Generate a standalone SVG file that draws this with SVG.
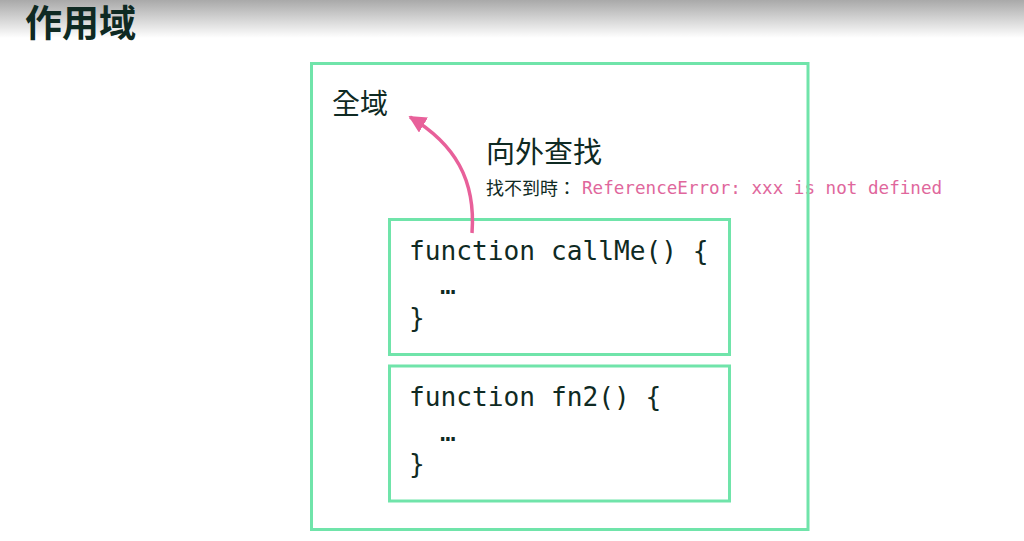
<svg xmlns="http://www.w3.org/2000/svg" width="1024" height="541" viewBox="0 0 1024 541">
  <defs>
    <linearGradient id="topShade" x1="0" y1="0" x2="0" y2="1">
      <stop offset="0" stop-color="#a9a9a9"/>
      <stop offset="1" stop-color="#ffffff"/>
    </linearGradient>
    <marker id="head" viewBox="0 0 10 10" refX="9" refY="5" markerWidth="5" markerHeight="5" orient="auto-start-reverse" markerUnits="strokeWidth">
      <path d="M0,0 L10,5 L0,10 z" fill="#e8609a"/>
    </marker>
    <style>
      .box { fill: none; stroke: #70e4aa; stroke-width: 3; }
      .code { font-family: "DejaVu Sans Mono", "Liberation Mono", monospace; font-size: 26.2px; fill: #0f2a23; }
      .cjk { font-family: "Noto Sans CJK TC", "Noto Sans", sans-serif; fill: #0f2a23; }
      .err { font-family: "DejaVu Sans Mono", "Liberation Mono", monospace; font-size: 17.6px; fill: #e0679c; }
    </style>
  </defs>
  <rect x="0" y="0" width="1024" height="541" fill="#ffffff"/>
  <rect x="0" y="0" width="1024" height="38" fill="url(#topShade)"/>
  <text x="25" y="37" class="cjk" font-size="37" font-weight="bold">作用域</text>

  <g id="label-global">
    <text x="332" y="114" class="cjk" font-size="28">全域</text>
  </g>
  <g id="label-lookup">
    <text x="486" y="163" class="cjk" font-size="29">向外查找</text>
    <text x="486" y="195" class="cjk" font-size="18">找不到時：</text>
    <text x="582" y="194" class="err">ReferenceError: xxx is not defined</text>
  </g>

  <g id="node-global">
    <rect x="311.5" y="63.5" width="496.5" height="466" class="box"/>
  </g>

  <g id="node-callMe">
    <rect x="389.5" y="219.5" width="340" height="135" class="box"/>
    <text x="409" y="260" class="code">function callMe() {</text>
    <text x="440" y="294" class="code">…</text>
    <text x="409" y="327" class="code">}</text>
  </g>

  <g id="node-fn2">
    <rect x="389.5" y="366" width="340" height="135" class="box"/>
    <text x="409" y="406" class="code">function fn2() {</text>
    <text x="440" y="441" class="code">…</text>
    <text x="409" y="473" class="code">}</text>
  </g>

  <g id="connectors">
    <path d="M472,233 C476,180 455,144 410,117" fill="none" stroke="#e8609a" stroke-width="3.5" marker-end="url(#head)"/>
  </g>
</svg>
